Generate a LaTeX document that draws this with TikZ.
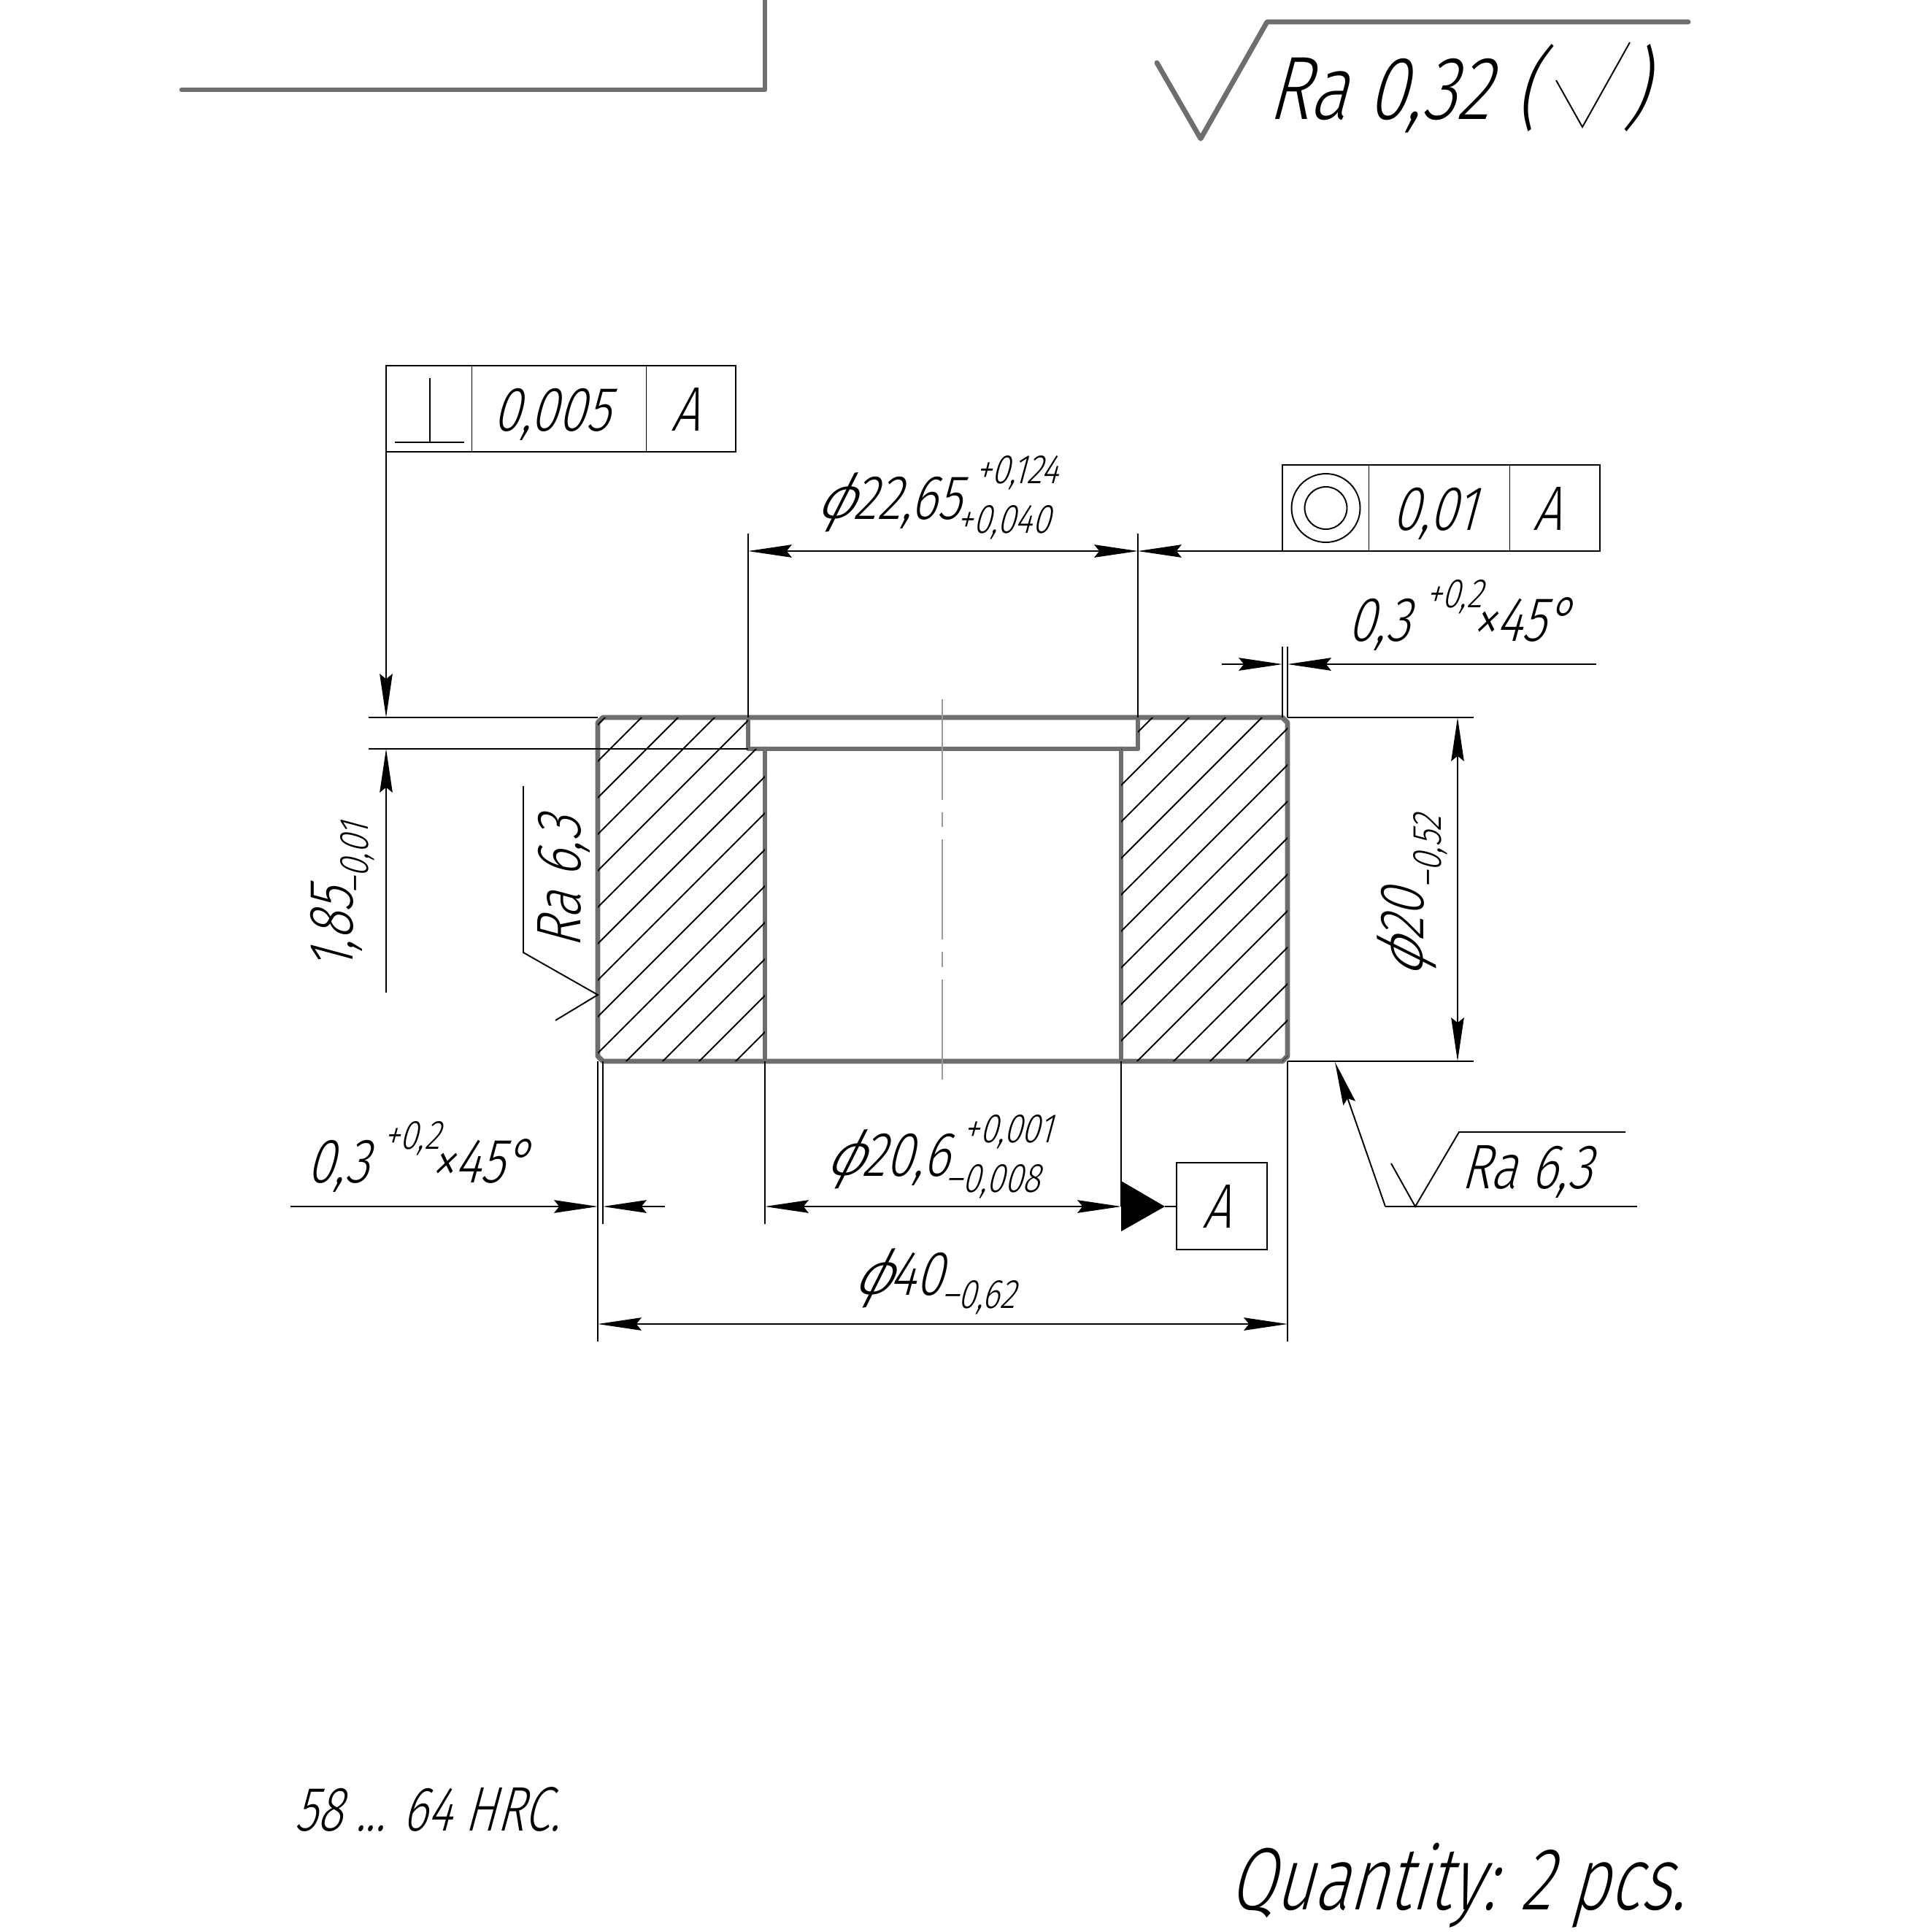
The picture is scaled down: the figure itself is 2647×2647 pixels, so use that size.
\documentclass[tikz,border=0pt]{standalone}
\usepackage{fontspec}
\usetikzlibrary{arrows.meta}
\setmainfont{Fira Sans Light}[FakeSlant=0.27,FakeStretch=0.8]
\newfontfamily\notefont{Fira Sans Light}[FakeSlant=0.27,FakeStretch=0.75]
\newfontfamily\phifont{Fira Sans Light}[FakeSlant=0.5,FakeStretch=0.95]
\newcommand{\dia}{{\phifont ϕ}}
\tikzset{
  x=0.01cm, y=-0.01cm,
  thickl/.style={line width=1.95pt, draw=black!57, line cap=round, line join=round},
  thinl/.style={line width=0.55pt, draw=black},
  axisl/.style={line width=0.65pt, draw=black!40},
  dimtip/.style={-{Stealth[length=17pt,width=5pt,inset=2pt]}},
  big/.style={inner sep=0pt, anchor=base, font=\fontsize{35}{38}\selectfont},
  med/.style={inner sep=0pt, anchor=base, font=\fontsize{24.5}{27}\selectfont},
  sml/.style={inner sep=0pt, anchor=base, font=\fontsize{16}{19}\selectfont},
}
\begin{document}
\begin{tikzpicture}
\useasboundingbox (0,0) rectangle (2647,2647);
\fill[white] (0,0) rectangle (2647,2647);

% sheet corner
\draw[thickl] (249,123) -- (1048,123) -- (1048,0);

% general roughness
\draw[thickl] (1585,86) -- (1645,190) -- (1736,30) -- (2313,30);
\node[big] (ratop) at (1889,163) {Ra 0,32};
\node[big] (lpar) at (2091,163) {(};
\node[big] (rpar) at (2240,163) {)};
\draw[thinl] (2132,110) -- (2168,174) -- (2233,58);

% part outline
\draw[thickl] (826,983) -- (1757,983) -- (1764,990) -- (1764,1447) -- (1757,1454) -- (826,1454) -- (819,1447) -- (819,990) -- cycle;
\draw[thickl] (1025,983) -- (1025,1026) -- (1559,1026) -- (1559,983);
\draw[thickl] (1048,1026) -- (1048,1454);
\draw[thickl] (1536,1026) -- (1536,1454);

% hatching
\begin{scope}
\clip (826,983) -- (1025,983) -- (1025,1026) -- (1048,1026) -- (1048,1454) -- (826,1454) -- (819,1447) -- (819,990) -- cycle;
\foreach \s in {1812,1862,...,2512} \draw[thinl] (800,{\s-800}) -- (1100,{\s-1100});
\end{scope}
\begin{scope}
\clip (1536,1026) -- (1559,1026) -- (1559,983) -- (1757,983) -- (1764,990) -- (1764,1447) -- (1757,1454) -- (1536,1454) -- cycle;
\foreach \s in {2512,2562,...,3212} \draw[thinl] (1500,{\s-1500}) -- (1800,{\s-1800});
\end{scope}

% axis
\draw[axisl] (1291,958) -- (1291,1096);
\draw[axisl] (1291,1113) -- (1291,1133);
\draw[axisl] (1291,1150) -- (1291,1287);
\draw[axisl] (1291,1304) -- (1291,1325);
\draw[axisl] (1291,1342) -- (1291,1479);

% perpendicularity frame
\draw[thinl] (529,501) rectangle (1008,619);
\draw[thinl] (646.5,501) -- (646.5,619);
\draw[thinl] (885.5,501) -- (885.5,619);
\draw[thinl] (541,606) -- (636,606);
\draw[thinl] (589,518) -- (589,606);
\node[med] (perpval) at (756,590) {0,005};
\node[med] (perpdat) at (939,590) {A};

% 1,85 dimension
\draw[thinl] (505,983) -- (819,983);
\draw[thinl] (505,1026) -- (1025,1026);
\draw[thinl,dimtip] (529,619) -- (529,983);
\draw[thinl,dimtip] (529,1360) -- (529,1026);
\node[med,rotate=90] (d185) at (483,1274) {1,85};
\node[sml,rotate=90] (t185) at (504,1177) {–0,01};

% left roughness
\draw[thinl] (717,1077) -- (717,1305) -- (819,1363) -- (761,1398);
\node[med,rotate=90] (raleft) at (795,1209) {Ra 6,3};

% counterbore dimension
\draw[thinl] (1025,983) -- (1025,731);
\draw[thinl] (1559,983) -- (1559,731);
\draw[thinl,dimtip] (1292,755) -- (1025,755);
\draw[thinl,dimtip] (1292,755) -- (1559,755);
\draw[thinl,dimtip] (1757,755) -- (1559,755);
\node[med] (d2265) at (1217,711) {\dia 22,65};
\node[sml] (t2265a) at (1393,662) {+0,124};
\node[sml] (t2265b) at (1375,730) {+0,040};

% concentricity frame
\draw[thinl] (1757,637) rectangle (2192,755);
\draw[thinl] (1875.5,637) -- (1875.5,755);
\draw[thinl] (2068.5,637) -- (2068.5,755);
\draw[thinl] (1816.5,696) circle[radius=47];
\draw[thinl] (1816.5,696) circle[radius=29];
\node[med] (concval) at (1965,726) {0,01};
\node[med] (concdat) at (2120,726) {A};

% top chamfer
\draw[thinl] (1757,983) -- (1757,886);
\draw[thinl] (1764,983) -- (1764,886);
\draw[thinl,dimtip] (1674,910) -- (1757,910);
\draw[thinl,dimtip] (2187,910) -- (1764,910);
\node[med] (chta) at (1889,878) {0,3};
\node[sml] (chtb) at (1992,832) {+0,2};
\node[med] (chtc) at (2084,878) {×45°};

% outer height dimension
\draw[thinl] (1764,983) -- (2019,983);
\draw[thinl] (1764,1454) -- (2019,1454);
\draw[thinl,dimtip] (1997,1218) -- (1997,983);
\draw[thinl,dimtip] (1997,1218) -- (1997,1454);
\node[med,rotate=90] (d20) at (1950,1280) {\dia 20};
\node[sml,rotate=90] (t20) at (1974,1168) {–0,52};

% bottom extension lines
\draw[thinl] (819,1454) -- (819,1838);
\draw[thinl] (826,1454) -- (826,1677);
\draw[thinl] (1764,1454) -- (1764,1838);
\draw[thinl] (1048,1454) -- (1048,1677);
\draw[thinl] (1536,1454) -- (1536,1653);

% bottom chamfer
\draw[thinl,dimtip] (398,1653) -- (819,1653);
\draw[thinl,dimtip] (911,1653) -- (826,1653);
\node[med] (chba) at (463,1620) {0,3};
\node[sml] (chbb) at (564,1574) {+0,2};
\node[med] (chbc) at (657,1620) {×45°};

% bore dimension and datum
\draw[thinl,dimtip] (1292,1653) -- (1048,1653);
\draw[thinl,dimtip] (1292,1653) -- (1536,1653);
\node[med] (d206) at (1215,1611) {\dia 20,6};
\node[sml] (t206a) at (1381,1565) {+0,001};
\node[sml] (t206b) at (1360,1633) {–0,008};
\fill[black] (1536,1618) -- (1596,1653) -- (1536,1687) -- cycle;
\draw[thinl] (1596,1653) -- (1612,1653);
\draw[thinl] (1612,1593) rectangle (1736,1712);
\node[med] (datum) at (1667,1682) {A};

% outer diameter
\draw[thinl,dimtip] (1292,1814) -- (819,1814);
\draw[thinl,dimtip] (1292,1814) -- (1764,1814);
\node[med] (d40) at (1230,1774) {\dia 40};
\node[sml] (t40) at (1340,1792) {–0,62};

% right roughness
\draw[thinl,dimtip] (1898,1653) -- (1829,1455);
\draw[thinl] (1898,1653) -- (2243,1653);
\draw[thinl] (1906,1594) -- (1939,1653) -- (1999,1551) -- (2227,1551);
\node[med] (raright) at (2091,1628) {Ra 6,3};

% notes
\node[med] (hrc) at (585,2508) {\notefont 58 ... 64 HRC.};
\node[big] (qty) at (1996,2616) {\notefont\fontsize{34.5}{38}\selectfont Quantity: 2 pcs.};
\end{tikzpicture}
\end{document}
